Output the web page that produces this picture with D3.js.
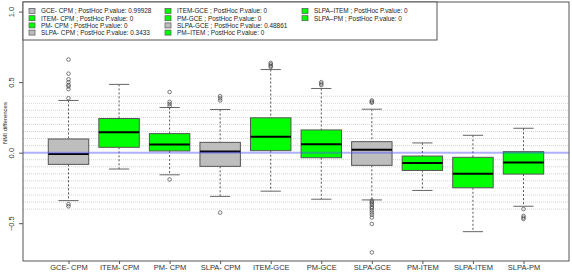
<!DOCTYPE html>
<html>
<head>
<meta charset="utf-8">
<script src="https://cdn.jsdelivr.net/npm/d3@7"></script>
<style>
  body { margin: 0; background: #fff; }
  text { font-family: "Liberation Sans", Arial, sans-serif; }
</style>
</head>
<body>
<script>
var width = 572, height = 273;

// comparison names and posthoc p-values
const groups = ["GCE- CPM", "ITEM- CPM", "PM- CPM", "SLPA- CPM", "ITEM-GCE", "PM-GCE", "SLPA-GCE", "PM-ITEM", "SLPA-ITEM", "SLPA-PM"];
const legendNames = ["GCE- CPM", "ITEM- CPM", "PM- CPM", "SLPA- CPM", "ITEM-GCE", "PM-GCE", "SLPA-GCE", "PM\u2013ITEM", "SLPA\u2013ITEM", "SLPA\u2013PM"];
const pValues = ["0.99928", "0", "0", "0.3433", "0", "0", "0.48861", "0", "0", "0"];

// box stats
const whiskerLo = [-0.34, -0.116, -0.157, -0.31, -0.273, -0.33, -0.335, -0.268, -0.56, -0.38];
const q1        = [-0.083, 0.038, 0.012, -0.097, 0.014, -0.036, -0.09, -0.126, -0.249, -0.152];
const medians   = [-0.01, 0.145, 0.057, 0.009, 0.112, 0.059, 0.021, -0.073, -0.149, -0.069];
const q3        = [0.097, 0.242, 0.135, 0.073, 0.247, 0.161, 0.078, -0.024, -0.033, 0.007];
const whiskerHi = [0.37, 0.484, 0.32, 0.306, 0.589, 0.455, 0.308, 0.069, 0.123, 0.173];
const outliers = [
  [0.386, 0.45, 0.47, 0.48, 0.5, 0.52, 0.56, 0.66, -0.365, -0.38],
  [],
  [0.33, 0.345, 0.36, 0.43, -0.19],
  [0.37, 0.385, 0.4, -0.425],
  [0.607, 0.615, 0.626, 0.636],
  [0.479, 0.489, 0.5],
  [0.354, 0.362, 0.37, -0.34, -0.35, -0.36, -0.37, -0.385, -0.395, -0.41, -0.425, -0.44, -0.46, -0.505, -0.707],
  [],
  [],
  [-0.4, -0.448, -0.46, -0.47]
];

const yTicks = [-0.5, 0.0, 0.5, 1.0];
const gridVals = d3.range(-0.4, 0.401, 0.05).filter(v => Math.abs(v) > 1e-6);

const margin = {left: 23, right: 3, top: 2, bottom: 12};

var x = d3.scaleLinear().domain([0.1, 10.9]).range([margin.left, width - margin.right]);
var y = d3.scaleLinear().domain([-0.768, 1.068]).range([height - margin.bottom, margin.top]);

var svg = d3.select("body").append("svg")
  .attr("width", width)
  .attr("height", height);

var fillOf = i => (+pValues[i] < 0.05 ? "#00ff00" : "#bebebe");

// dotted grid
svg.append("g").selectAll("line")
  .data(gridVals)
  .enter().append("line")
  .attr("x1", x(0.1)).attr("x2", x(10.9))
  .attr("y1", d => y(d)).attr("y2", d => y(d))
  .attr("stroke", "#d4d4d4")
  .attr("stroke-width", 1)
  .attr("stroke-dasharray", "1,1");

// boxes
var bw = 0.4;
var bx = svg.append("g").selectAll("g")
  .data(groups)
  .enter().append("g");

bx.append("line")
  .attr("x1", (d, i) => x(i + 1)).attr("x2", (d, i) => x(i + 1))
  .attr("y1", (d, i) => y(whiskerHi[i])).attr("y2", (d, i) => y(q3[i]))
  .attr("stroke", "#555").attr("stroke-dasharray", "2,2");
bx.append("line")
  .attr("x1", (d, i) => x(i + 1)).attr("x2", (d, i) => x(i + 1))
  .attr("y1", (d, i) => y(q1[i])).attr("y2", (d, i) => y(whiskerLo[i]))
  .attr("stroke", "#555").attr("stroke-dasharray", "2,2");
bx.append("line")
  .attr("x1", (d, i) => x(i + 1 - bw / 2)).attr("x2", (d, i) => x(i + 1 + bw / 2))
  .attr("y1", (d, i) => y(whiskerHi[i])).attr("y2", (d, i) => y(whiskerHi[i]))
  .attr("stroke", "#666");
bx.append("line")
  .attr("x1", (d, i) => x(i + 1 - bw / 2)).attr("x2", (d, i) => x(i + 1 + bw / 2))
  .attr("y1", (d, i) => y(whiskerLo[i])).attr("y2", (d, i) => y(whiskerLo[i]))
  .attr("stroke", "#666");
bx.append("rect")
  .attr("x", (d, i) => x(i + 1 - bw))
  .attr("width", (d, i) => x(i + 1 + bw) - x(i + 1 - bw))
  .attr("y", (d, i) => y(q3[i]))
  .attr("height", (d, i) => y(q1[i]) - y(q3[i]))
  .attr("fill", (d, i) => fillOf(i))
  .attr("stroke", "#555").attr("stroke-width", 1);
bx.append("line")
  .attr("x1", (d, i) => x(i + 1 - bw)).attr("x2", (d, i) => x(i + 1 + bw))
  .attr("y1", (d, i) => y(medians[i])).attr("y2", (d, i) => y(medians[i]))
  .attr("stroke", "#000").attr("stroke-width", 2);

bx.each(function(d, i) {
  d3.select(this).selectAll("circle")
    .data(outliers[i])
    .enter().append("circle")
    .attr("cx", x(i + 1))
    .attr("cy", v => y(v))
    .attr("r", 1.8)
    .attr("fill", "none")
    .attr("stroke", "#444")
    .attr("stroke-width", 0.7);
});

// zero line
svg.append("line")
  .attr("x1", x(0.1)).attr("x2", x(10.9))
  .attr("y1", y(0)).attr("y2", y(0))
  .attr("stroke", "rgba(80,80,255,0.45)")
  .attr("stroke-width", 2);

// plot box
svg.append("rect")
  .attr("x", x(0.1)).attr("y", y(1.068))
  .attr("width", x(10.9) - x(0.1))
  .attr("height", y(-0.768) - y(1.068))
  .attr("fill", "none").attr("stroke", "#555");

// axes
var yAxis = svg.append("g")
  .attr("transform", `translate(${x(0.1)},0)`)
  .call(d3.axisLeft(y).tickValues(yTicks).tickFormat(d3.format(".1f")).tickSize(4).tickPadding(3));
yAxis.select(".domain").remove();
yAxis.selectAll("line").attr("stroke", "#555");
yAxis.selectAll("text")
  .attr("transform", "rotate(-90)")
  .attr("x", 0).attr("y", -9)
  .attr("dy", 0)
  .attr("text-anchor", "middle")
  .style("font-size", "7.5px").attr("fill", "#333");

var xAxis = svg.append("g")
  .attr("transform", `translate(0,${y(-0.768)})`)
  .call(d3.axisBottom(x).tickValues(d3.range(1, 11)).tickFormat(d => groups[d - 1]).tickSize(3).tickPadding(1));
xAxis.select(".domain").remove();
xAxis.selectAll("line").attr("stroke", "#555");
xAxis.selectAll("text").style("font-size", "7.5px").attr("fill", "#333");

svg.append("text")
  .attr("transform", `translate(7,${y(0.21)}) rotate(-90)`)
  .attr("text-anchor", "middle")
  .style("font-size", "6px")
  .attr("fill", "#222")
  .text("NMI differences");

// legend
var lg = svg.append("g");
lg.append("rect")
  .attr("x", x(0.1)).attr("y", y(1.068))
  .attr("width", 414).attr("height", 38)
  .attr("fill", "#fff").attr("stroke", "#555");

var colX = [29, 165, 302];
var rowY = [11, 18.2, 25.4, 32.6];
var items = lg.selectAll("g.item")
  .data(legendNames)
  .enter().append("g")
  .attr("transform", (d, i) => `translate(${colX[Math.floor(i / 4)]},${rowY[i % 4]})`);
items.append("rect")
  .attr("x", 0).attr("y", -2.5)
  .attr("width", 6).attr("height", 5)
  .attr("fill", (d, i) => fillOf(i))
  .attr("stroke", "#555").attr("stroke-width", 0.7);
items.append("text")
  .attr("x", 12).attr("y", 2.3)
  .style("font-size", "6.4px")
  .attr("fill", "#222")
  .text((d, i) => `${d} ; PostHoc P.value: ${pValues[i]}`);
</script>
</body>
</html>
